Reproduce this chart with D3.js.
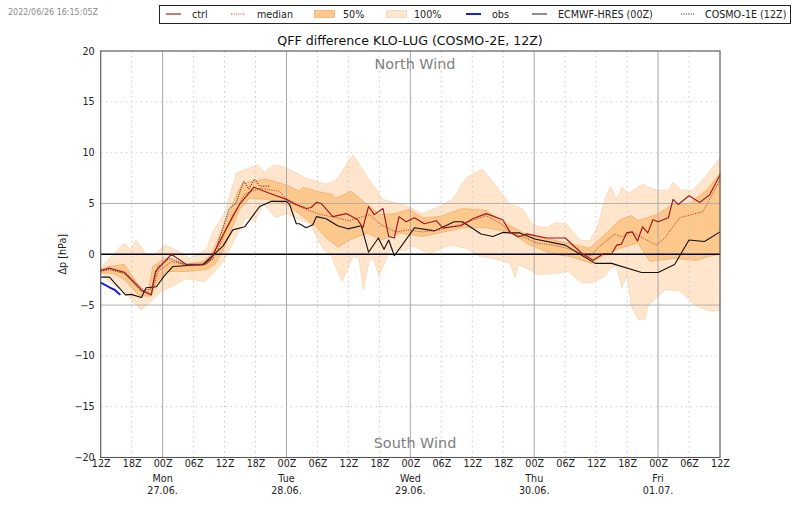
<!DOCTYPE html>
<html><head><meta charset="utf-8">
<script src="https://cdn.jsdelivr.net/npm/d3@7"></script>
<style>html,body{margin:0;padding:0;background:#fff}svg{display:block}text{font-family:"DejaVu Sans",sans-serif}</style>
</head><body><svg id="c" width="800" height="509"></svg>
<script>
const hi100Hours=[0,1.7,4.6,5.7,6.8,8.8,10.5,12.4,14.6,17.2,20.5,21.7,24,26.3,30.5,31.7,33.7,36,39.8,43.7,45.6,48.9,51.4,54.7,58.5,62.4,65.6,68.2,70.8,74,76.6,79.2,81.9,83.2,84.1,86.4,88,90.3,92.8,94.8,96.4,97.7,98.8,100,101,102.2,105,107.7,110,110.9,112.5,114.8,117.4,120];
const hi100Values=[-1.4,-.4,1.1,.45,1.4,0,0,.9,.45,-.4,.5,2.2,4,8,8.8,8.1,8.8,8.5,7.5,6.9,7.3,9.8,7.8,5.4,4.9,4,4.7,5.4,7.5,8.4,6.7,5,4.4,3.2,2.8,2.6,3.1,3,1.4,1.3,2.9,5.4,6.7,5.4,6.6,6,6.9,6.3,6.3,7.1,6.3,6.3,7.8,9.5];
const lo100Hours=[0,1.7,4.3,5.9,7.9,9.8,11.7,13.7,16.6,20.1,22.7,24,25.6,28.2,29.9,31.4,34,36,40.5,43,44.7,46.8,48.9,50,50.9,52.1,53,53.9,55,56,59.2,60.5,63.7,67.6,70.8,73.4,76,79.3,80.3,80.9,82.5,84.8,87.7,90.6,93.2,95.1,97.7,98.6,99.9,101,102,102.8,104.1,105.4,106.1,109.3,112.2,115.4,118,120];
const lo100Values=[-1.7,-2.8,-3.5,-4.5,-5.5,-4.6,-3.7,-3.2,-2.4,-2.7,-1.4,-.5,1.1,3.7,3.2,5,3.6,4,3,.6,-.2,-2.7,-.2,-.4,-3.5,-.4,-.7,-2.1,-.9,.4,.4,.8,.05,.9,.6,-.2,-.4,-.9,-2.3,-1,-1.4,-2,-1.9,-1.7,-2.8,-2.8,-2.2,-1.5,-1.1,-3.3,-2,-5.1,-6.4,-6.4,-5.1,-3.5,-3.6,-5.1,-5.6,-5.5];
const hi50Hours=[0,1.7,4.6,6.3,7.9,9.2,10.1,12.4,16.6,19.8,21.4,23.4,25,26.6,27.6,29.5,32.1,36,38.5,39.2,41.8,44.7,45.6,48.5,51.4,54,57.2,59.8,62.4,65.6,70.1,74.7,77.9,79.3,81.9,90.3,94.8,98.6,100.6,102.8,104.1,107.7,110.9,114.1,117.4,120];
const hi50Values=[-1.5,-1.2,-1,-2.3,-3.5,-3.7,-1.2,-.4,-1,-.7,0,2.2,4.2,6.2,7,7.2,7.4,6.8,6.2,6.6,6.2,5.9,5.5,6.2,5,3.9,4,4.4,3.6,3.7,4.5,4.3,3.2,2.8,2.1,1.1,.6,2.4,3.4,3.8,3.3,3.9,4.9,5,6.3,8];
const lo50Hours=[0,2.4,4.6,7.5,9.8,10.8,12.7,16.6,20.5,22.1,23.7,25.3,26.9,28.8,32.1,36,39.2,41.8,43.7,46,48.2,51.8,54.3,57.9,62.4,65.6,70.1,74.7,79.3,83.2,87.7,90.9,95.1,98,101.9,104.1,106.4,110.9,115.4,118,120];
const lo50Values=[-1.85,-1.9,-2.5,-4.1,-4.1,-2.8,-1.7,-1.7,-1.5,-1,.3,2.4,4.4,5.5,5.4,5,3.7,2.7,1.6,.7,1.4,2.1,1.4,2.1,1.75,2.1,2.6,2.6,2.2,.9,0,-.2,-.9,.1,.8,1.1,-.7,-.4,-.6,-.2,0];
const medianHours=[0,1.7,4.6,7.9,9.8,11.1,13.7,16.9,20.5,22.7,24.9,27.9,30.8,34.6,36.6,39.8,42.7,45.6,48.2,52.1,54.3,57.2,59.5,62.4,65.6,69.5,74.7,77.9,79.3,81.9,84.5,87.7,90.3,94.8,96.7,99.6,100.9,102.8,105.1,107.7,109.3,112.2,116.7,120];
const medianValues=[-1.7,-1.5,-1.7,-3.3,-4,-1.7,-.7,-1.1,-1,.4,3.2,5.9,6.5,6.2,5.1,4.4,3.9,3.6,3.3,3.9,2.9,2.2,2.4,2.2,2.4,2.9,3.8,2.9,2.1,1.7,1.1,.9,.6,-.2,.8,2,1.7,2.2,1.6,.9,1.6,3.6,4.2,7.3];
const ctrlHours=[0,1.7,4.6,8.2,9.8,10.6,13.7,16.6,20.1,21.4,24,26.9,29.7,32.7,36,37.9,39.9,40.8,41.8,42.7,45,47.6,49.8,50.8,51.9,53,54.7,55.8,56.9,57.8,59.2,60.8,62.7,65,66.3,69.8,72.1,74.7,77.9,79.3,80.9,82.5,86.4,90,93.2,95.4,97.4,99,100,100.9,101.9,103,104,105,106,107,108,110,110.9,111.9,114,116.1,118,120];
const ctrlValues=[-1.6,-1.35,-1.8,-3.65,-4,-1.7,0,-1,-1,-.4,2.2,4.9,6.6,6,5.4,4.9,4.5,4.6,5.1,5,3.7,4,3.4,2.6,4.7,3.9,4.5,1.75,1.6,3.7,3.2,3.6,3,3.3,2.6,2.8,3.5,4,3.4,2.2,1.7,2,1.6,1.6,.1,-.6,.05,.05,.9,1,2.1,2.2,1.3,2.7,2.1,3.4,3.2,3.6,5.4,4.9,5.75,5.1,5.85,7.8];
const hresHours=[0,1.7,4.8,5.9,7.9,8.8,10.8,12.2,14,16.9,19.8,23.7,25.6,27.9,30.8,33,36,36.6,37.9,38.5,39.8,41.1,41.8,43.7,45.9,47.9,50.5,51.9,53.8,54.9,55.8,56.9,60.8,64.7,68.5,70.1,73.7,76,77.9,79.3,81.2,84.1,90,95.8,99,104.8,108,111.2,114,117,120];
const hresValues=[-2.25,-2.25,-4,-3.95,-4.25,-3.3,-3.2,-2.2,-1.2,-1.1,-1,.8,2.4,2.7,4.7,5.2,5.2,4.9,3,3,2.6,2.9,3.7,3.5,2.8,2.5,2.8,.2,1.6,.5,1.4,-.15,2.6,2.3,3.2,3.2,2,1.75,2.15,2.1,2.1,1.5,.9,-.9,-.9,-1.8,-1.8,-1,1.4,1.25,2.2];
const cosmo1Hours=[0,1.7,4.6,7.9,9.8,11.1,13.4,16.3,19.8,21.7,24.9,26.2,27.7,28.7,29.8,30.8,32.7];
const cosmo1Values=[-1.6,-1.5,-1.9,-3.65,-3.4,-1.2,-.4,-1,-1.1,-.5,4.5,5,7.2,6.4,7.4,6.7,6.7];
const obsHours=[0,1.7,2.7,3.8];
const obsValues=[-2.8,-3.25,-3.5,-4];
const majorYTicks=[-20,-15,-10,-5,0,5,10,15,20];
const xTickHours=d3.range(0,121,6);
const xTickLabels=["12Z","18Z","00Z","06Z","12Z","18Z","00Z","06Z","12Z","18Z","00Z","06Z","12Z","18Z","00Z","06Z","12Z","18Z","00Z","06Z","12Z"];
const dayHours=[12,36,60,84,108];
const dayNames=["Mon","Tue","Wed","Thu","Fri"];
const dayDates=["27.06.","28.06.","29.06.","30.06.","01.07."];

const L=100.7,R=720,T=51,B=457.5;
const x=d3.scaleLinear().domain([0,120]).range([L,R]);
const y=d3.scaleLinear().domain([-20,20]).range([B,T]);
const svg=d3.select("#c");
const pts=(h,v)=>h.map((d,i)=>[d,v[i]]);
const line=d3.line().x(d=>x(d[0])).y(d=>y(d[1]));
const band=(hh,hv,lh,lv)=>line(pts(hh,hv).concat(pts(lh,lv).reverse()))+"Z";
const C100="#fee5cc",C50="#fdc88b";

svg.append("text").attr("x",8).attr("y",15).attr("font-size",8).attr("fill","#8c8c8c").text("2022/06/26 16:15:05Z");
svg.append("text").attr("x",410).attr("y",45).attr("text-anchor","middle").attr("font-size",12.6).attr("fill","#111").text("QFF difference KLO-LUG (COSMO-2E, 12Z)");

const plot=svg.append("g");
plot.append("path").attr("d",band(hi100Hours,hi100Values,lo100Hours,lo100Values)).attr("fill",C100).attr("stroke","#f6d8b6").attr("stroke-width",.8);
plot.append("path").attr("d",band(hi50Hours,hi50Values,lo50Hours,lo50Values)).attr("fill",C50).attr("stroke","#f3ad69").attr("stroke-width",.8);

const grid=svg.append("g");
xTickHours.forEach(h=>{const major=dayHours.includes(h);
  grid.append("line").attr("x1",x(h)).attr("x2",x(h)).attr("y1",T).attr("y2",B)
    .attr("stroke",major?"#a8a8a8":"#c4c4c4").attr("stroke-width",major?1:.9).attr("stroke-dasharray",major?null:"1.5,3.5");});
majorYTicks.forEach(v=>{const solid=Math.abs(v)===5;
  grid.append("line").attr("x1",L).attr("x2",R).attr("y1",y(v)).attr("y2",y(v))
    .attr("stroke",solid?"#b0b0b0":"#c4c4c4").attr("stroke-width",solid?1:.9).attr("stroke-dasharray",solid?null:"1.5,3.5");});

svg.append("text").attr("x",415).attr("y",69).attr("text-anchor","middle").attr("font-size",14.4).attr("fill","#808080").text("North Wind");
svg.append("text").attr("x",415).attr("y",448).attr("text-anchor","middle").attr("font-size",14.4).attr("fill","#808080").text("South Wind");

svg.append("line").attr("x1",L).attr("x2",R).attr("y1",y(0)).attr("y2",y(0)).attr("stroke","#000").attr("stroke-width",1.4);
const draw=(h,v,c,w,dash)=>svg.append("path").attr("d",line(pts(h,v))).attr("fill","none").attr("stroke",c).attr("stroke-width",w).attr("stroke-linejoin","round").attr("stroke-dasharray",dash||null);
draw(hresHours,hresValues,"#111",1.1);
draw(cosmo1Hours,cosmo1Values,"#222",.9,"1.2,1.2");
draw(medianHours,medianValues,"#c0392b",.9,"1.2,1.2");
draw(ctrlHours,ctrlValues,"#a01620",1.15);
draw(obsHours,obsValues,"#0a14e6",1.9);

const fontSize=9.6;
const ax=svg.append("g").attr("transform",`translate(0,${B})`)
  .call(d3.axisBottom(x).tickValues(xTickHours).tickSize(0).tickPadding(3).tickFormat((d,i)=>xTickLabels[i]));
const ay=svg.append("g").attr("transform",`translate(${L},0)`)
  .call(d3.axisLeft(y).tickValues(majorYTicks).tickSize(0).tickPadding(6).tickFormat(d=>d<0?"\u2212"+(-d):d));
[ax,ay].forEach(a=>{a.select(".domain").remove();a.selectAll("text").attr("font-size",fontSize).attr("font-family","DejaVu Sans").attr("fill","#222");});
dayHours.forEach((h,i)=>{
  svg.append("text").attr("x",x(h)).attr("y",482).attr("text-anchor","middle").attr("font-size",fontSize).attr("fill","#222").text(dayNames[i]);
  svg.append("text").attr("x",x(h)).attr("y",494).attr("text-anchor","middle").attr("font-size",fontSize).attr("fill","#222").text(dayDates[i]);
});
svg.append("text").attr("transform",`translate(66,${y(0)}) rotate(-90)`).attr("text-anchor","middle").attr("font-size",fontSize).attr("fill","#222").text("\u0394p [hPa]");
svg.append("rect").attr("x",L).attr("y",T).attr("width",R-L).attr("height",B-T).attr("fill","none").attr("stroke","#555").attr("stroke-width",1.1);

const leg=svg.append("g");
leg.append("rect").attr("x",159.5).attr("y",5.5).attr("width",631).attr("height",18).attr("fill","#fff").attr("stroke","#222").attr("stroke-width",1);
const legLine=(x1,x2,c,w,dash)=>leg.append("line").attr("x1",x1).attr("x2",x2).attr("y1",14).attr("y2",14).attr("stroke",c).attr("stroke-width",w).attr("stroke-dasharray",dash||null);
const legText=(tx,s)=>leg.append("text").attr("x",tx).attr("y",17.5).attr("font-size",fontSize).attr("fill","#222").text(s);
const legPatch=(px,c,e)=>leg.append("rect").attr("x",px).attr("y",10.5).attr("width",20).attr("height",7).attr("fill",c).attr("stroke",e).attr("stroke-width",.7);
legLine(166,181,"#a01620",1.15);legText(192,"ctrl");
legLine(231,245,"#c0392b",.9,"1.2,1.2");legText(257,"median");
legPatch(314.5,C50,"#e8a868");legText(343,"50%");
legPatch(386.5,C100,"#ecd2b4");legText(414,"100%");
legLine(466,481,"#0a14e6",1.9);legText(492,"obs");
legLine(532,547,"#333",1.1);legText(558,"ECMWF-HRES (00Z)");
legLine(681,694,"#222",.9,"1.2,1.2");legText(705,"COSMO-1E (12Z)");
</script></body></html>
